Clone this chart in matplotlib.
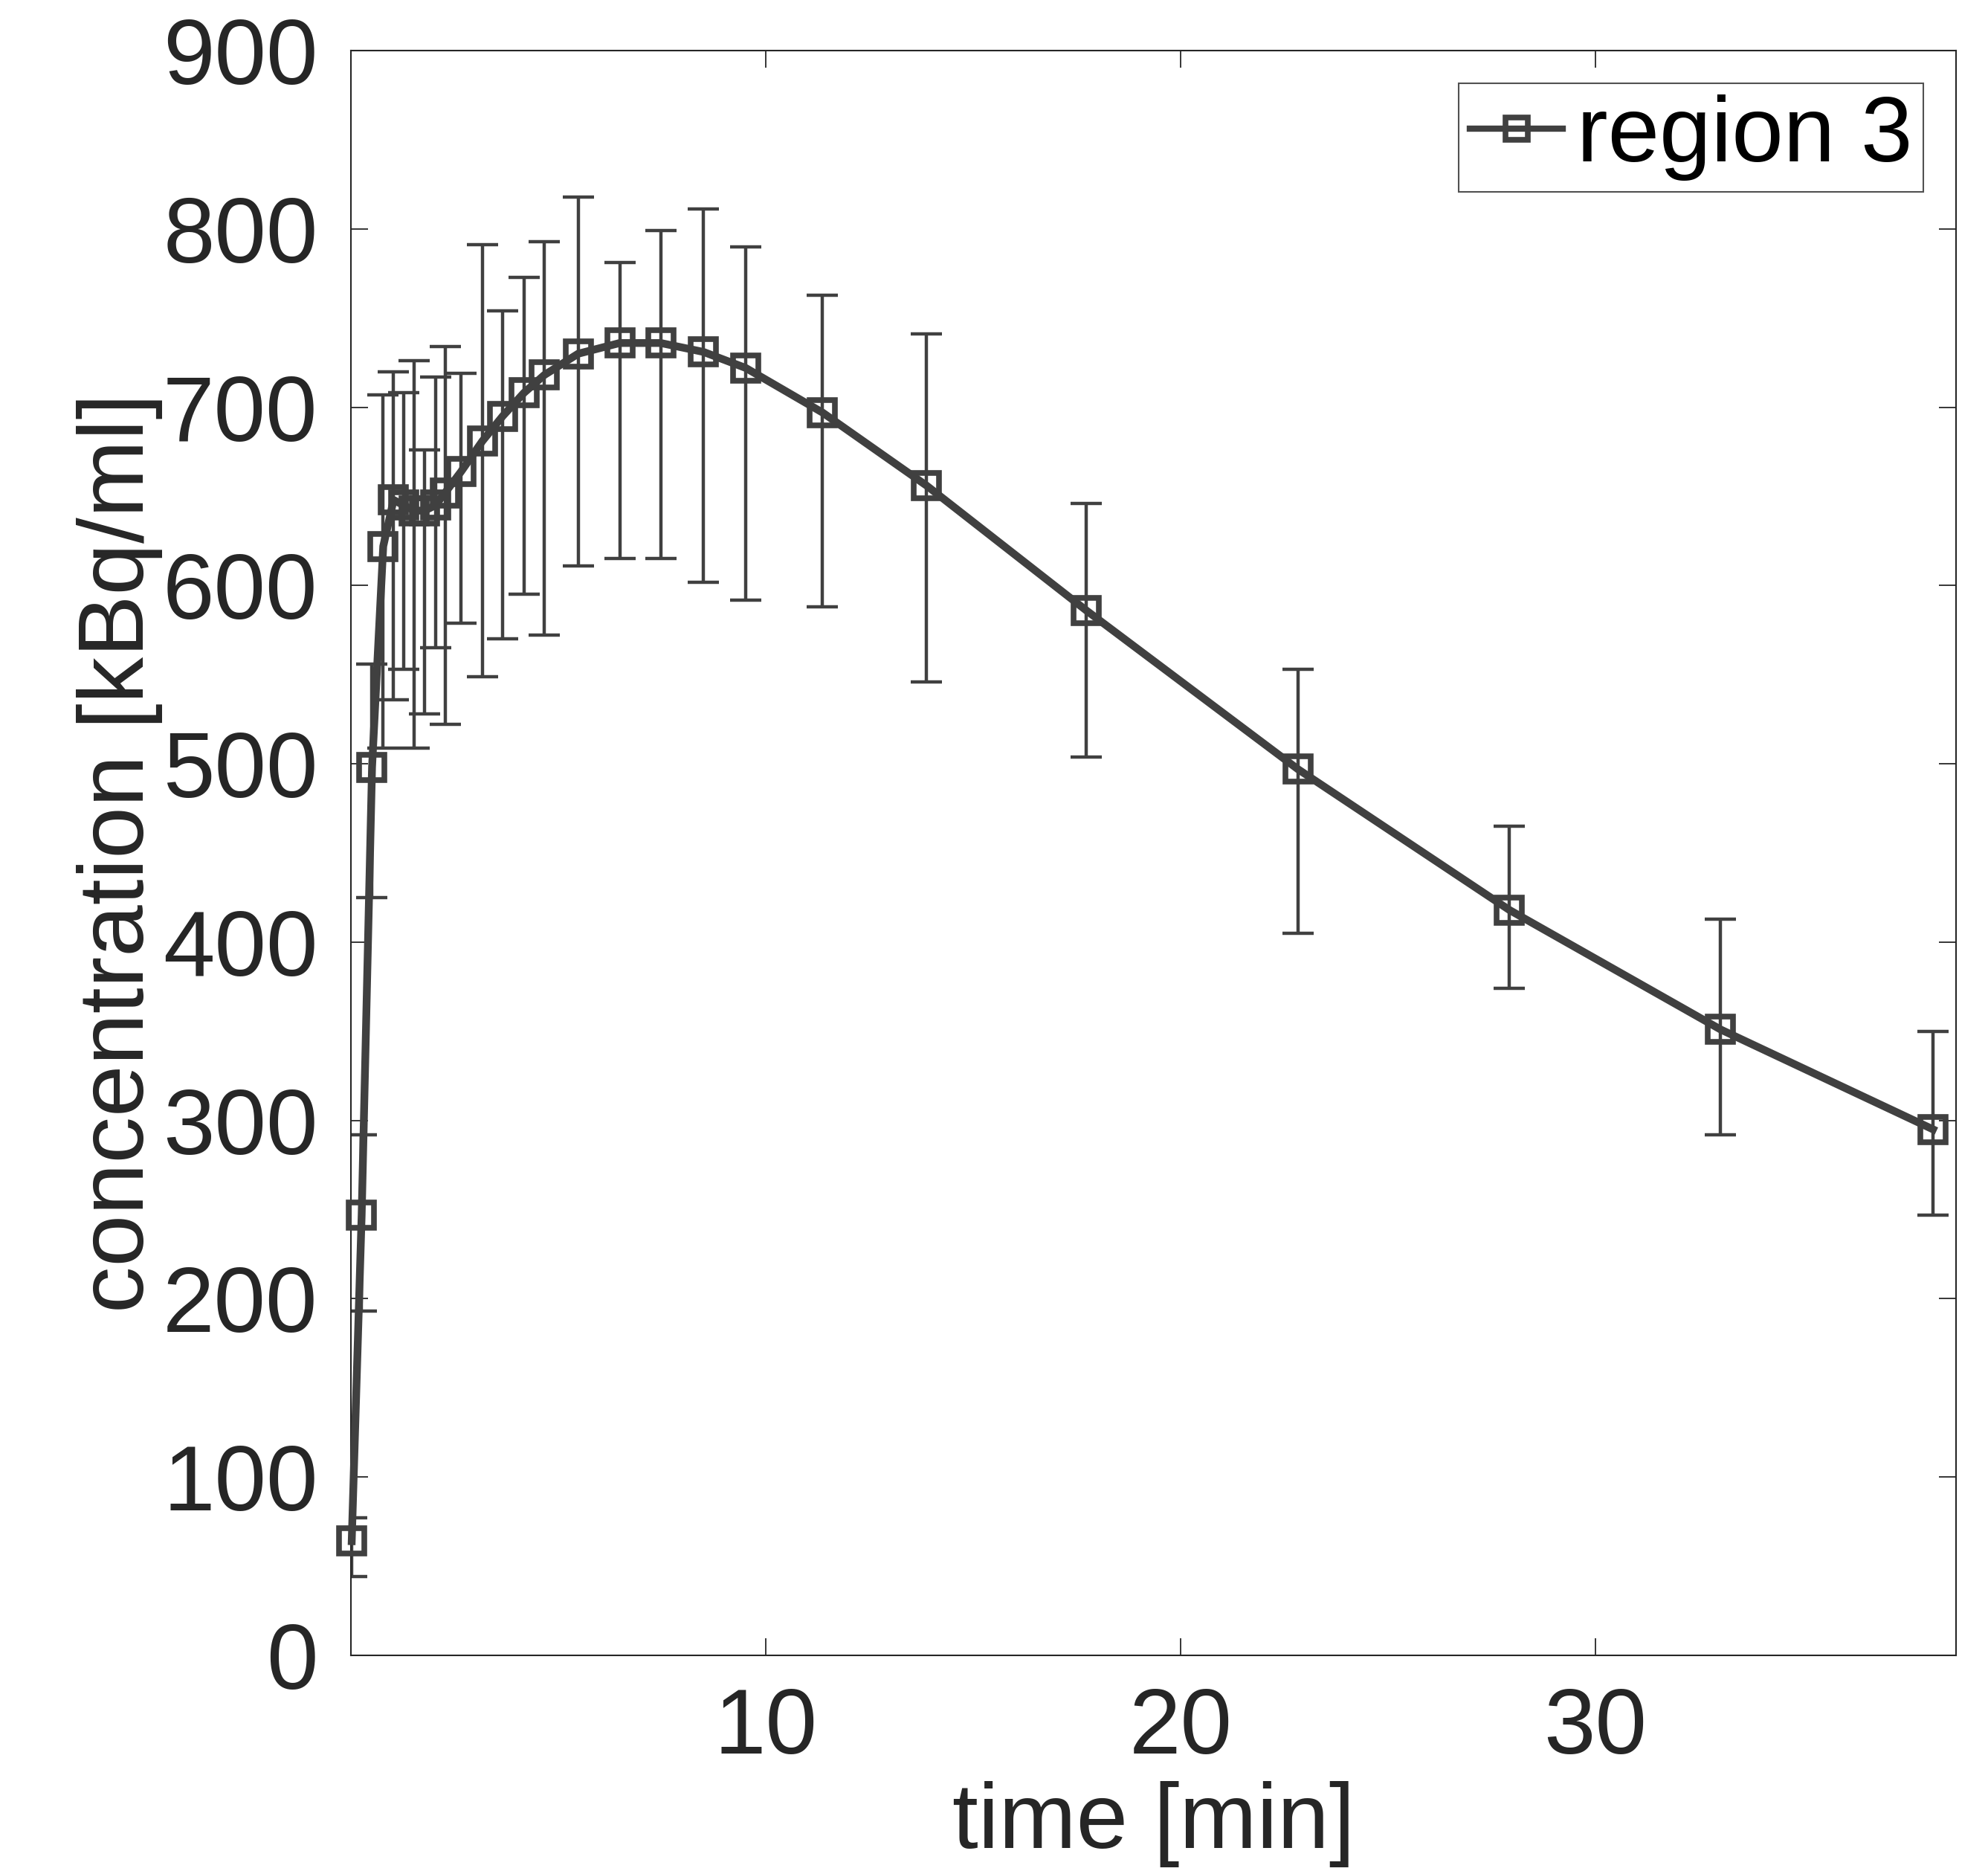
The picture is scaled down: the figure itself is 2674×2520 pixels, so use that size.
import numpy as np
import matplotlib
matplotlib.use("Agg")
import matplotlib.pyplot as plt

# data (asymmetric error bars)
time_min = [0.02, 0.26, 0.51, 0.78, 1.03, 1.27, 1.53, 1.78, 2.04, 2.27, 2.66,
            3.17, 3.66, 4.17, 4.66, 5.48, 6.48, 7.47, 8.50, 9.52, 11.37,
            13.88, 17.73, 22.83, 27.93, 33.02, 38.14]
conc = [64, 247, 498, 622, 648, 645, 642, 642, 645, 652, 664,
        681, 695, 708, 718, 730, 736, 736, 731, 722, 697,
        656, 586, 497, 418, 351, 295]
conc_upper = [77, 292, 556, 707, 720, 708, 726, 676, 717, 734, 719,
              791, 754, 773, 793, 818, 781, 799, 811, 790, 763,
              741, 646, 553, 465, 413, 350]
conc_lower = [44, 193, 425, 509, 536, 553, 509, 528, 565, 522, 579,
              549, 570, 595, 572, 611, 615, 615, 602, 592, 588,
              546, 504, 405, 374, 292, 247]

x_ticks = [10, 20, 30]
y_ticks = [0, 100, 200, 300, 400, 500, 600, 700, 800, 900]

plt.rcParams['font.family'] = ['Liberation Sans', 'DejaVu Sans']

line_col = '#404040'
text_col = '#262626'

t = np.array(time_min)
c = np.array(conc)
yerr = [c - np.array(conc_lower), np.array(conc_upper) - c]

fig = plt.figure(figsize=(26.74, 25.20), dpi=100)
ax = fig.add_axes([0.1765, 0.1167, 0.8075, 0.8563])

# error bars first, then the line with markers
ax.errorbar(t, c, yerr=yerr, fmt='none', ecolor=line_col, elinewidth=3.2,
            capsize=15, capthick=3.2)
ax.plot(t, c, color=line_col, lw=7.5, marker='s', ms=24, mfc='none',
        mec=line_col, mew=5.5, label='region 3', clip_on=False, zorder=3)

ax.set_xlim(0, 38.7)
ax.set_ylim(0, 900)
ax.set_xticks(x_ticks)
ax.set_yticks(y_ticks)

ax.tick_params(direction='in', length=16.5, width=1.3, colors=text_col,
               labelsize=90, top=True, right=True)
ax.tick_params(axis='x', pad=30)
ax.tick_params(axis='y', pad=32)
for s in ax.spines.values():
    s.set_linewidth(1.5)
    s.set_color(text_col)

ax.set_xlabel('time [min]', fontsize=90, color=text_col, labelpad=8)
ax.set_ylabel('concentration [kBq/ml]', fontsize=90, color=text_col,
              labelpad=0)

leg = ax.legend(loc='upper right', fontsize=90, frameon=True, fancybox=False,
                handlelength=1.0, handletextpad=0.15, borderpad=0.12,
                borderaxespad=0.35, markerscale=0.9)
leg.get_frame().set_edgecolor(text_col)
leg.get_frame().set_linewidth(1.5)
for line in leg.get_lines():
    line.set_linewidth(6)

fig.savefig('out.png', dpi=100)
